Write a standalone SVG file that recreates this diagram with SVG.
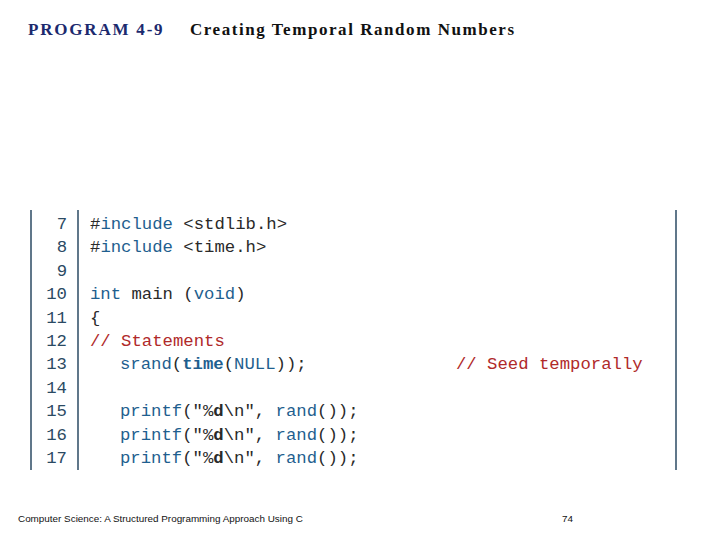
<svg xmlns="http://www.w3.org/2000/svg" width="720" height="540" viewBox="0 0 720 540">
<style>
.c{font-family:"Liberation Mono","DejaVu Sans Mono",monospace;font-size:17.3px;fill:#2a2a2a}
.n{font-family:"Liberation Mono","DejaVu Sans Mono",monospace;font-size:17.3px;fill:#2b4a63;text-anchor:end}
.k{fill:#1f5f8f}
.r{fill:#b02a2a}
.b{stroke:#2b4a63;stroke-width:1.5}
</style>
<rect width="720" height="540" fill="#fff"/>
<g id="title">
<text x="28" y="35" font-family="Liberation Serif,serif" font-size="17" font-weight="bold" letter-spacing="1.8" fill="#1c2a6e">PROGRAM 4-9</text>
<text x="190" y="35" font-family="Liberation Serif,serif" font-size="17" font-weight="bold" letter-spacing="1.55" fill="#111">Creating Temporal Random Numbers</text>
</g>
<g id="frame">
<line class="b" x1="31" y1="210" x2="31" y2="470"/>
<line class="b" x1="78" y1="210" x2="78" y2="470"/>
<line class="b" x1="676" y1="210" x2="676" y2="470"/>
</g>
<g id="numbers">
<text class="n" x="67" y="229">7</text>
<text class="n" x="67" y="252.4">8</text>
<text class="n" x="67" y="275.8">9</text>
<text class="n" x="67" y="299.2">10</text>
<text class="n" x="67" y="322.6">11</text>
<text class="n" x="67" y="346">12</text>
<text class="n" x="67" y="369.4">13</text>
<text class="n" x="67" y="392.8">14</text>
<text class="n" x="67" y="416.2">15</text>
<text class="n" x="67" y="439.6">16</text>
<text class="n" x="67" y="463">17</text>
</g>
<g id="code">
<text class="c" x="90" y="229">#<tspan class="k">include</tspan> &lt;stdlib.h&gt;</text>
<text class="c" x="90" y="252.4">#<tspan class="k">include</tspan> &lt;time.h&gt;</text>
<text class="c" x="90" y="299.2"><tspan class="k">int</tspan> main (<tspan class="k">void</tspan>)</text>
<text class="c" x="90" y="322.6">{</text>
<text class="c r" x="90" y="346">// Statements</text>
<text class="c" x="120" y="369.4"><tspan class="k">srand</tspan>(<tspan font-weight="bold" class="k">time</tspan>(<tspan class="k">NULL</tspan>));</text>
<text class="c r" x="456" y="369.4">// Seed temporally</text>
<text class="c" x="120" y="416.2"><tspan class="k">printf</tspan>("%<tspan font-weight="bold">d</tspan>\n", <tspan class="k">rand</tspan>());</text>
<text class="c" x="120" y="439.6"><tspan class="k">printf</tspan>("%<tspan font-weight="bold">d</tspan>\n", <tspan class="k">rand</tspan>());</text>
<text class="c" x="120" y="463"><tspan class="k">printf</tspan>("%<tspan font-weight="bold">d</tspan>\n", <tspan class="k">rand</tspan>());</text>
</g>
<g id="footer">
<text x="18" y="522" font-family="Liberation Sans,sans-serif" font-size="9.9" fill="#111">Computer Science: A Structured Programming Approach Using C</text>
<text x="562" y="522" font-family="Liberation Sans,sans-serif" font-size="9.9" fill="#111">74</text>
</g>
</svg>
